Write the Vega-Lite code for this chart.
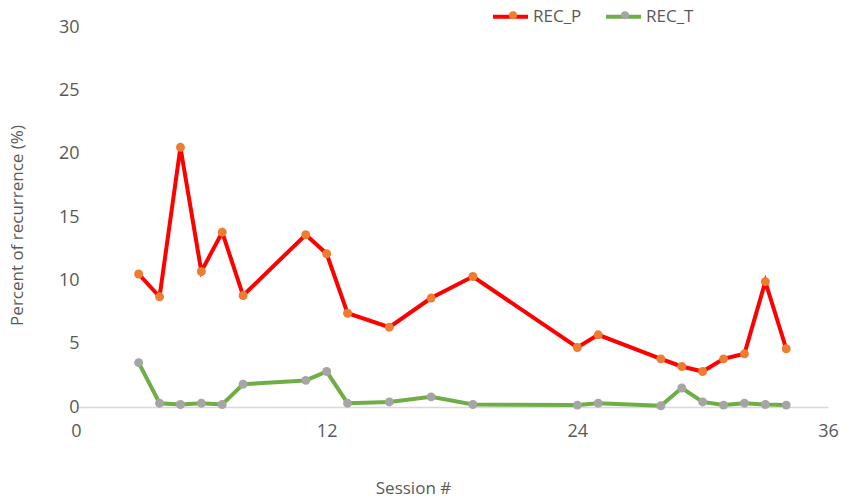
{
  "$schema": "https://vega.github.io/schema/vega-lite/v6.json",
  "autosize": {"type": "none"},
  "width": 752,
  "height": 380,
  "padding": {"left": 76, "top": 27, "right": 23, "bottom": 96},
  "background": "white",
  "config": {
    "view": {"stroke": null},
    "font": "Open Sans"
  },
  "data": {
    "values": [
      {"session": 3, "series": "REC_P", "value": 10.5},
      {"session": 4, "series": "REC_P", "value": 8.7},
      {"session": 5, "series": "REC_P", "value": 20.5},
      {"session": 6, "series": "REC_P", "value": 10.7},
      {"session": 7, "series": "REC_P", "value": 13.8},
      {"session": 8, "series": "REC_P", "value": 8.8},
      {"session": 11, "series": "REC_P", "value": 13.6},
      {"session": 12, "series": "REC_P", "value": 12.1},
      {"session": 13, "series": "REC_P", "value": 7.4},
      {"session": 15, "series": "REC_P", "value": 6.3},
      {"session": 17, "series": "REC_P", "value": 8.6},
      {"session": 19, "series": "REC_P", "value": 10.3},
      {"session": 24, "series": "REC_P", "value": 4.7},
      {"session": 25, "series": "REC_P", "value": 5.7},
      {"session": 28, "series": "REC_P", "value": 3.8},
      {"session": 29, "series": "REC_P", "value": 3.2},
      {"session": 30, "series": "REC_P", "value": 2.8},
      {"session": 31, "series": "REC_P", "value": 3.8},
      {"session": 32, "series": "REC_P", "value": 4.2},
      {"session": 33, "series": "REC_P", "value": 9.9},
      {"session": 34, "series": "REC_P", "value": 4.6},
      {"session": 3, "series": "REC_T", "value": 3.5},
      {"session": 4, "series": "REC_T", "value": 0.3},
      {"session": 5, "series": "REC_T", "value": 0.2},
      {"session": 6, "series": "REC_T", "value": 0.3},
      {"session": 7, "series": "REC_T", "value": 0.2},
      {"session": 8, "series": "REC_T", "value": 1.8},
      {"session": 11, "series": "REC_T", "value": 2.1},
      {"session": 12, "series": "REC_T", "value": 2.8},
      {"session": 13, "series": "REC_T", "value": 0.3},
      {"session": 15, "series": "REC_T", "value": 0.4},
      {"session": 17, "series": "REC_T", "value": 0.8},
      {"session": 19, "series": "REC_T", "value": 0.2},
      {"session": 24, "series": "REC_T", "value": 0.15},
      {"session": 25, "series": "REC_T", "value": 0.3},
      {"session": 28, "series": "REC_T", "value": 0.1},
      {"session": 29, "series": "REC_T", "value": 1.5},
      {"session": 30, "series": "REC_T", "value": 0.4},
      {"session": 31, "series": "REC_T", "value": 0.15},
      {"session": 32, "series": "REC_T", "value": 0.3},
      {"session": 33, "series": "REC_T", "value": 0.2},
      {"session": 34, "series": "REC_T", "value": 0.15}
    ]
  },
  "encoding": {
    "x": {
      "field": "session",
      "type": "quantitative",
      "scale": {"domain": [0, 36], "nice": false, "zero": true},
      "axis": {
        "title": "Session #",
        "values": [0, 12, 24, 36],
        "grid": false,
        "ticks": false,
        "domain": true,
        "domainColor": "#D9D9D9",
        "domainWidth": 1.3,
        "labelFlush": false,
        "labelFontSize": 18,
        "labelColor": "#595959",
        "labelPadding": 15,
        "labelFont": "Open Sans",
        "titleFont": "Open Sans",
        "titleFontSize": 17,
        "titleFontWeight": "normal",
        "titleColor": "#595959",
        "titleX": 337,
        "titleY": 81,
        "titleBaseline": "middle",
        "titleAlign": "center"
      }
    },
    "y": {
      "field": "value",
      "type": "quantitative",
      "scale": {"domain": [0, 30], "nice": false},
      "axis": {
        "title": "Percent of recurrence (%)",
        "values": [0, 5, 10, 15, 20, 25, 30],
        "grid": false,
        "ticks": false,
        "domain": false,
        "labelFlush": false,
        "labelFontSize": 18,
        "labelColor": "#595959",
        "labelPadding": -3,
        "labelFont": "Open Sans",
        "titleFont": "Open Sans",
        "titleFontSize": 17,
        "titleFontWeight": "normal",
        "titleColor": "#595959",
        "titleX": -59,
        "titleY": 198,
        "titleBaseline": "middle",
        "titleAlign": "center",
        "titleAngle": -90
      }
    }
  },
  "layer": [
    {
      "mark": {"type": "line", "strokeWidth": 4},
      "encoding": {
        "stroke": {
          "field": "series",
          "type": "nominal",
          "scale": {"domain": ["REC_P", "REC_T"], "range": ["#FF0000", "#70AD47"]},
          "legend": {
            "title": null,
            "orient": "none",
            "direction": "horizontal",
            "legendX": 415,
            "legendY": -30,
            "symbolType": "stroke",
            "symbolSize": 1225,
            "symbolStrokeWidth": 4,
            "labelFontSize": 17,
            "labelFont": "Open Sans",
            "labelColor": "#595959",
            "labelOffset": 3,
            "columnPadding": 16
          }
        }
      }
    },
    {
      "mark": {"type": "point", "filled": true, "opacity": 1, "size": 80},
      "encoding": {
        "fill": {
          "field": "series",
          "type": "nominal",
          "scale": {"domain": ["REC_P", "REC_T", "other"], "range": ["#ED7D31", "#A5A5A5", "#A5A5A5"]},
          "legend": {
            "title": null,
            "values": ["REC_P", "REC_T"],
            "orient": "none",
            "direction": "horizontal",
            "legendX": 428.5,
            "legendY": -20.5,
            "symbolType": "circle",
            "symbolSize": 64,
            "symbolStrokeWidth": 0,
            "symbolOpacity": 1,
            "labelFontSize": 17,
            "labelFont": "Open Sans",
            "labelColor": "transparent",
            "labelOffset": 30,
            "columnPadding": 16
          }
        }
      }
    }
  ]
}
